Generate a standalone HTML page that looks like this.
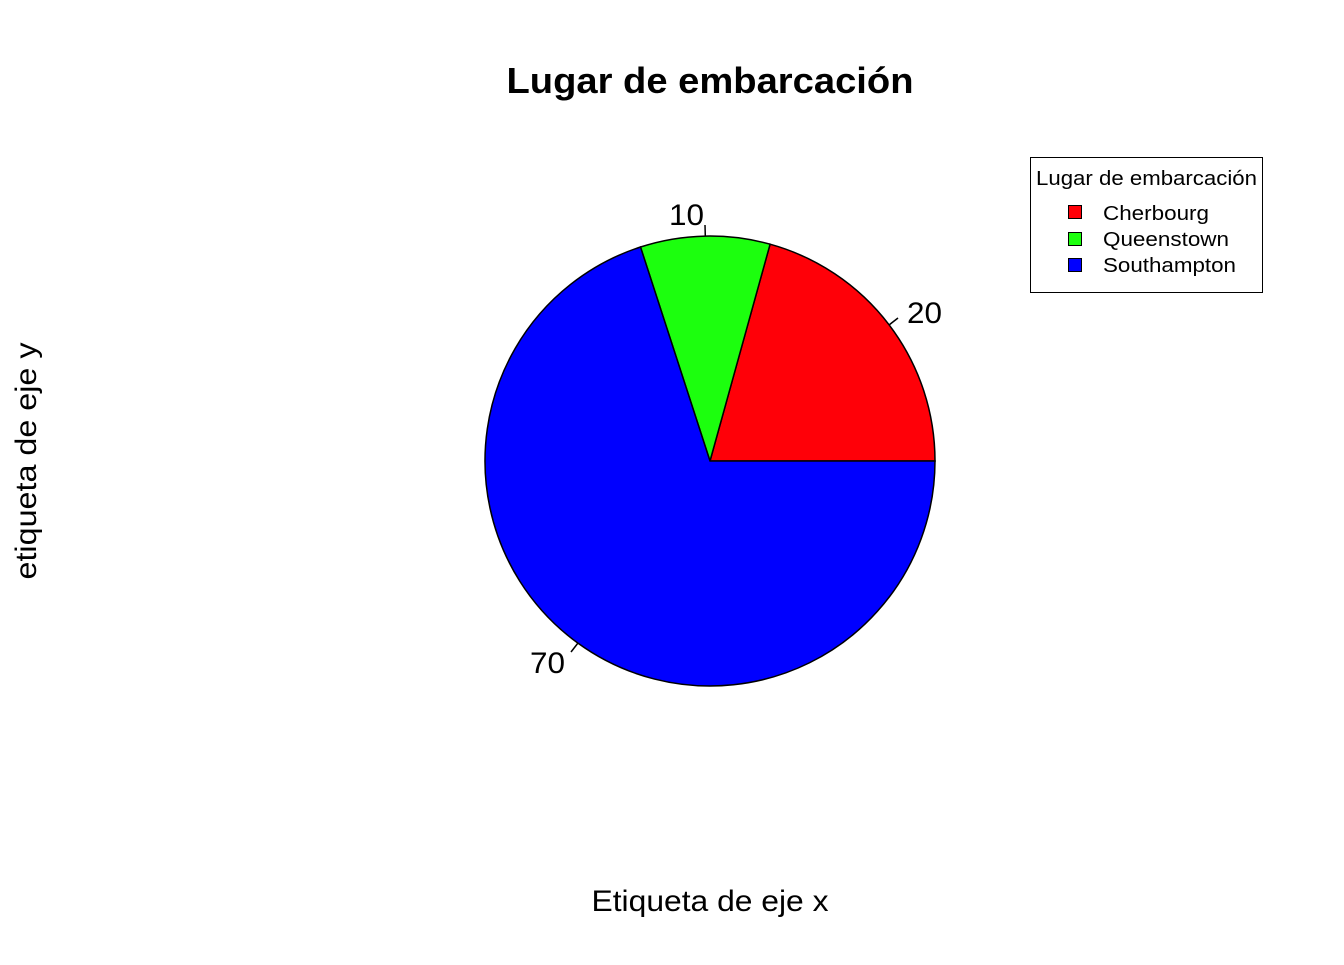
<!DOCTYPE html>
<html><head><style>html,body{margin:0;padding:0;background:#fff}</style></head>
<body>
<svg width="1344" height="960" viewBox="0 0 1344 960" xmlns="http://www.w3.org/2000/svg" font-family="Liberation Sans, Arial, sans-serif">
<rect width="1344" height="960" fill="#fff"/>
<text x="710" y="93" font-size="36" font-weight="bold" text-anchor="middle" textLength="407" lengthAdjust="spacingAndGlyphs">Lugar de embarcación</text>
<path d="M710,461 L935,461 A225,225 0 0 0 770.1,244.2 Z" fill="#ff0008" stroke="#000" stroke-width="1.5"/>
<path d="M710,461 L770.1,244.2 A225,225 0 0 0 640.5,247 Z" fill="#1cff0e" stroke="#000" stroke-width="1.5"/>
<path d="M710,461 L640.5,247 A225,225 0 1 0 935,461 Z" fill="#0000ff" stroke="#000" stroke-width="1.5"/>
<g stroke="#000" stroke-width="1.5">
<line x1="889" y1="325" x2="898" y2="318"/>
<line x1="705.3" y1="236" x2="705" y2="225"/>
<line x1="578" y1="643" x2="571" y2="652"/>
</g>
<g font-size="30">
<text x="907" y="323" textLength="35" lengthAdjust="spacingAndGlyphs">20</text>
<text x="669" y="225" textLength="35" lengthAdjust="spacingAndGlyphs">10</text>
<text x="530" y="673" textLength="35" lengthAdjust="spacingAndGlyphs">70</text>
</g>
<rect x="1030.5" y="157.5" width="232" height="135" fill="#fff" stroke="#000" stroke-width="1"/>
<text x="1036" y="185" font-size="20" textLength="221" lengthAdjust="spacingAndGlyphs">Lugar de embarcación</text>
<g stroke="#000" stroke-width="1">
<rect x="1068.5" y="205.5" width="13" height="13" fill="#ff0008"/>
<rect x="1068.5" y="232.5" width="13" height="13" fill="#1cff0e"/>
<rect x="1068.5" y="258.5" width="13" height="13" fill="#0000ff"/>
</g>
<g font-size="20">
<text x="1103" y="220" textLength="106" lengthAdjust="spacingAndGlyphs">Cherbourg</text>
<text x="1103" y="246" textLength="126" lengthAdjust="spacingAndGlyphs">Queenstown</text>
<text x="1103" y="272" textLength="133" lengthAdjust="spacingAndGlyphs">Southampton</text>
</g>
<text x="710" y="911" font-size="30" text-anchor="middle" textLength="237" lengthAdjust="spacingAndGlyphs">Etiqueta de eje x</text>
<text transform="translate(36,461) rotate(-90)" font-size="30" text-anchor="middle" textLength="237" lengthAdjust="spacingAndGlyphs">etiqueta de eje y</text>
</svg>
</body></html>
